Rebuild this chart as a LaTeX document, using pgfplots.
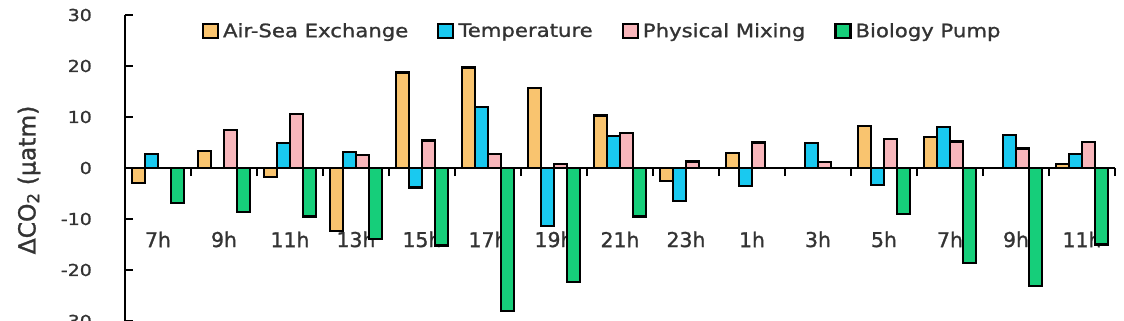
\documentclass[border=0pt]{standalone}
\usepackage{fontspec}
\setmainfont{DejaVu Sans}[FakeStretch=1.15, RawFeature={embolden=1.2}]
\newfontfamily\labfont{DejaVu Sans}[RawFeature={embolden=1.2}]
\usepackage{pgfplots}
\usepackage{pgfplotstable}
\pgfplotsset{compat=1.18}
\definecolor{cA}{HTML}{F9C46F}
\definecolor{cT}{HTML}{19C9F0}
\definecolor{cP}{HTML}{F8B6BB}
\definecolor{cB}{HTML}{16CE7A}
\definecolor{txt}{HTML}{333333}
\pgfplotstableread{
x A T P B
1 -2.9 2.8 0 -6.9
2 3.3 0 7.4 -8.6
3 -1.8 4.9 10.6 -9.5
4 -12.4 3.1 2.6 -13.9
5 18.7 -3.8 5.4 -15.2
6 19.7 12.0 2.8 -28.1
7 15.7 -11.4 0.8 -22.4
8 10.3 6.3 6.9 -9.5
9 -2.6 -6.5 1.3 0
10 2.9 -3.5 5.0 0
11 0 4.9 1.2 0
12 8.3 -3.3 5.7 -9.0
13 6.1 8.0 5.2 -18.6
14 0 6.5 3.8 -23.2
15 0.8 2.8 5.1 -15.0
}\data
\begin{document}
\begin{tikzpicture}
\useasboundingbox (-125bp,0bp) rectangle (999bp,321bp);
\clip (-125bp,0bp) rectangle (999bp,321bp);
\begin{axis}[
  scale only axis, width=990bp, height=306bp,
  at={(0bp,0bp)}, anchor=south west,
  xmin=0.5, xmax=15.5, ymin=-30, ymax=30,
  axis x line*=middle, axis y line*=left,
  hide obscured x ticks=false, hide obscured y ticks=false,
  xtick={1.5,2.5,...,15.5}, xticklabels={},
  xtick align=center,
  ytick={-30,-20,...,30}, ytick align=inside,
  major tick length=8bp,
  tick style={line width=2.2bp, black},
  axis line style={line width=2.6bp, black},
  /pgf/number format/assume math mode=true,
  yticklabel style={font=\fontsize{16.5}{18}\selectfont, text=txt, inner sep=0pt, xshift=-33bp},
  ybar=0pt, bar width=13bp,
  legend columns=4,
  legend style={draw=none, fill=none, at={(rel axis cs:0.482,0.948)}, anchor=center,
    font=\fontsize{18.5}{20}\selectfont, text=txt,
    /tikz/every even column/.append style={column sep=27bp},
    /tikz/every odd column/.append style={column sep=2bp}},
  legend image code/.code={\draw[#1, line width=2.2bp] (0bp,-7bp) rectangle (15bp,7bp);},
  clip=false,
]
\foreach \i/\l in {1/7h,2/9h,3/11h,4/13h,5/15h,6/17h,7/19h,8/21h,9/23h,10/1h,11/3h,12/5h,13/7h,14/9h,15/11h}{
  \edef\tmp{\noexpand\node[font=\noexpand\labfont\noexpand\fontsize{20.5}{22}\noexpand\selectfont, text=txt] at (axis cs:\i,-14) {\l};}
  \tmp
}
\addplot[fill=cA, draw=black, line width=2.3bp] table[x=x,y=A]{\data};
\addplot[fill=cT, draw=black, line width=2.3bp] table[x=x,y=T]{\data};
\addplot[fill=cP, draw=black, line width=2.3bp] table[x=x,y=P]{\data};
\addplot[fill=cB, draw=black, line width=2.3bp] table[x=x,y=B]{\data};
\legend{Air-Sea Exchange, Temperature, Physical Mixing, Biology Pump}
\end{axis}
\node[rotate=90, font=\labfont\fontsize{23.5}{25}\selectfont, text=txt] at (-96bp,141bp) {ΔCO\textsubscript{2} (µatm)};
\end{tikzpicture}
\end{document}
